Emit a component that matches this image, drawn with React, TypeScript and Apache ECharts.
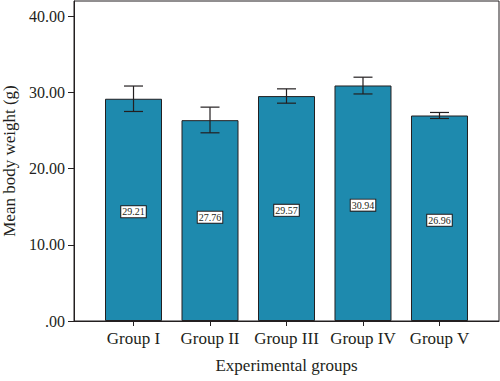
import React, { useEffect, useRef } from "react";
import * as echarts from "echarts";

const groups = ["Group I", "Group II", "Group III", "Group IV", "Group V"];
const barMeans = [29.17, 26.36, 29.52, 30.91, 26.97];
const errHigh = [30.84, 28.07, 30.47, 32.0, 27.37];
const errLow = [27.5, 24.7, 28.59, 29.8, 26.58];
const labelValues = [29.21, 27.76, 29.57, 30.94, 26.96];
const yTicks = [0, 10, 20, 30, 40];

const FONT = "'Liberation Serif', 'Times New Roman', serif";
const INK = "#231f20";

export default function App() {
  const ref = useRef<HTMLDivElement>(null);
  useEffect(() => {
    if (!ref.current) return;
    const chart = echarts.init(ref.current, undefined, { renderer: "svg" });
    const idx = groups.map((_, i) => i);
    chart.setOption({
      animation: false,
      grid: {
        left: 74,
        top: 1,
        right: 1,
        bottom: 60,
        containLabel: false,
        outerBoundsMode: "none",
        show: true,
        borderColor: INK,
        borderWidth: 1,
        backgroundColor: "#fff",
      },
      xAxis: {
        type: "value",
        min: -0.778,
        max: 4.778,
        splitLine: { show: false },
        axisLine: { show: true, onZero: false, lineStyle: { color: INK, width: 1 } },
        axisTick: {
          show: true,
          customValues: idx,
          length: 5,
          lineStyle: { color: INK },
        },
        axisLabel: {
          customValues: idx,
          formatter: (v: number) => groups[Math.round(v)] ?? "",
          margin: 9,
          fontSize: 17,
          fontFamily: FONT,
          color: INK,
        },
        name: "Experimental groups",
        nameLocation: "middle",
        nameGap: 36,
        nameTextStyle: { fontSize: 17, fontFamily: FONT, color: INK },
      },
      yAxis: {
        type: "value",
        min: 0,
        max: 42,
        interval: 10,
        splitLine: { show: false },
        axisLine: { show: true, onZero: false, lineStyle: { color: INK, width: 1 } },
        axisTick: {
          show: true,
          customValues: yTicks,
          length: 6,
          lineStyle: { color: INK },
        },
        axisLabel: {
          customValues: yTicks,
          formatter: (v: number) => (v === 0 ? ".00" : v.toFixed(2)),
          margin: 9,
          fontSize: 16,
          fontFamily: FONT,
          color: INK,
        },
        name: "Mean body weight (g)",
        nameLocation: "middle",
        nameGap: 56,
        nameTextStyle: { fontSize: 17, fontFamily: FONT, color: INK },
      },
      series: [
        {
          type: "bar",
          data: barMeans.map((v, i) => [i, v]),
          barWidth: 57,
          itemStyle: {
            color: "#1e8aae",
            borderColor: INK,
            borderWidth: 1,
          },
        },
        {
          type: "custom",
          data: idx.map((i) => [i, errLow[i], errHigh[i]]),
          renderItem: (params: any, api: any) => {
            const x = api.value(0);
            const lo = api.coord([x, api.value(1)]);
            const hi = api.coord([x, api.value(2)]);
            const hw = 9.5;
            const style = { stroke: INK, lineWidth: 1.2 };
            return {
              type: "group",
              children: [
                { type: "line", shape: { x1: hi[0], y1: hi[1], x2: lo[0], y2: lo[1] }, style },
                { type: "line", shape: { x1: hi[0] - hw, y1: hi[1], x2: hi[0] + hw, y2: hi[1] }, style },
                { type: "line", shape: { x1: lo[0] - hw, y1: lo[1], x2: lo[0] + hw, y2: lo[1] }, style },
              ],
            };
          },
          z: 5,
        },
        {
          type: "scatter",
          data: labelValues.map((v, i) => [i, v / 2]),
          symbolSize: 0,
          itemStyle: { opacity: 1 },
          z: 6,
          label: {
            show: true,
            position: "inside",
            offset: [0, 2],
            formatter: (p: any) => labelValues[p.dataIndex].toFixed(2),
            backgroundColor: "#ffffff",
            borderColor: INK,
            borderWidth: 1,
            padding: [1, 1, 0, 1],
            fontSize: 10,
            fontFamily: FONT,
            color: INK,
            textBorderWidth: 0,
            opacity: 1,
          },
        },
      ],
    });
    return () => chart.dispose();
  }, []);
  return (
    <div
      ref={ref}
      style={{ position: "absolute", left: 0, top: 0, width: 500, height: 381 }}
    />
  );
}
